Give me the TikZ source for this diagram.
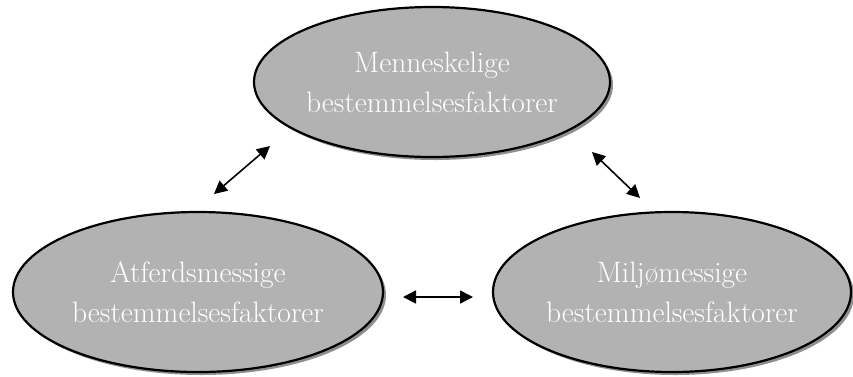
\documentclass[tikz,border=0pt]{standalone}
\usetikzlibrary{shapes.geometric,arrows.meta,shadows}
\begin{document}
\begin{tikzpicture}[x=1pt,y=-1pt,
  factor/.style={ellipse, draw=black, line width=2.2pt, fill=gray!60, inner sep=0pt,
    text=white, align=center, font=\fontsize{29.5}{40}\selectfont,
    drop shadow={shadow xshift=3pt, shadow yshift=-3pt, fill=gray!90!black, opacity=0.8}},
  link/.style={line width=1.6pt, {Triangle[length=13pt,width=13pt]}-{Triangle[length=13pt,width=13pt]}}]
\useasboundingbox (0,0) rectangle (853,376);
\node[factor, minimum width=354pt, minimum height=150pt] (top) at (432,82) {Menneskelige\\bestemmelsesfaktorer};
\node[factor, minimum width=370pt, minimum height=160pt] (left) at (198,292) {Atferdsmessige\\bestemmelsesfaktorer};
\node[factor, minimum width=358pt, minimum height=160pt] (right) at (672,292) {Miljømessige\\bestemmelsesfaktorer};
\coordinate (a1) at (270,146);
\coordinate (a2) at (214,194);
\coordinate (b1) at (592,152);
\coordinate (b2) at (640,198);
\coordinate (c1) at (403,297);
\coordinate (c2) at (473,297);
\draw[link] (a1) -- (a2);
\draw[link] (b1) -- (b2);
\draw[link] (c1) -- (c2);
\end{tikzpicture}
\end{document}
